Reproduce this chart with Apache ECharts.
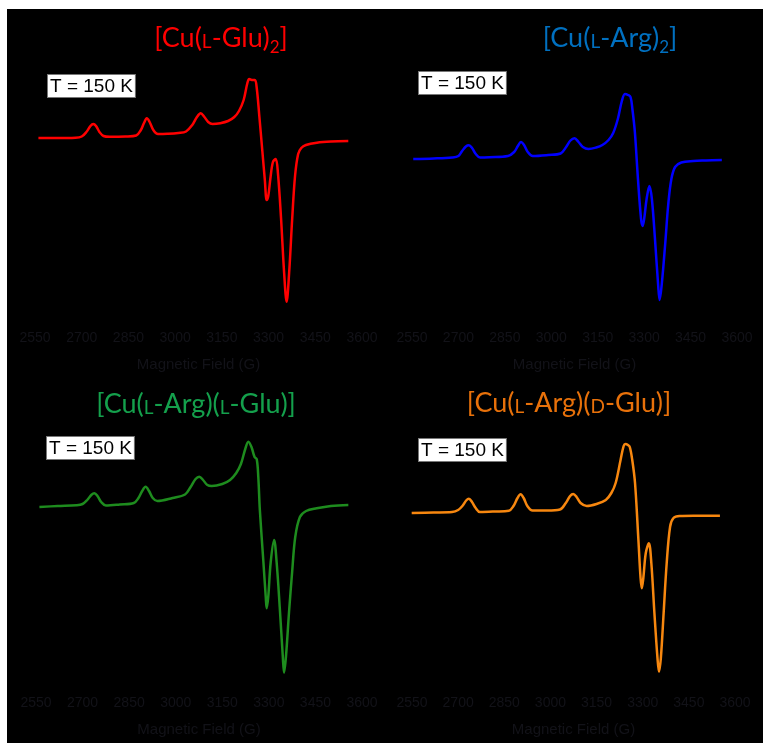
<!DOCTYPE html>
<html>
<head>
<meta charset="utf-8">
<script src="https://cdn.jsdelivr.net/npm/echarts@6/dist/echarts.min.js"></script>
<style>
  html, body { margin: 0; padding: 0; background: #fff; }
  .plate { position: absolute; left: 7px; top: 9px; width: 756px; height: 734px; background: #000; }
  #epr { position: absolute; left: 0; top: 0; width: 763px; height: 743px; }
</style>
</head>
<body>
<div class="plate"></div>
<div id="epr"></div>
<script>
// tick labels shared by all four panels (G)
const fieldTicks = [2550, 2700, 2850, 3000, 3150, 3300, 3450, 3600];

// [Cu(L-Glu)2]
const glu2Field  = [2561, 2620, 2680, 2700, 2715, 2728, 2737, 2746, 2757, 2770, 2790, 2840, 2875, 2890, 2900, 2909, 2918, 2930, 2945, 2975, 3010, 3035, 3055, 3070, 3082, 3094, 3106, 3120, 3145, 3170, 3190, 3205, 3220, 3232, 3238, 3246, 3256, 3262, 3270, 3280, 3288, 3294, 3299, 3306, 3314, 3323, 3330, 3340, 3350, 3358, 3366, 3376, 3385, 3395, 3405, 3420, 3455, 3500, 3556];
const glu2Signal = [0, 0, 0.3, 1.5, 6, 12, 14, 12, 6, 2, 1.2, 1.5, 2.5, 8, 15, 19.7, 16, 8, 4, 4.2, 5, 6.5, 13, 21, 24.7, 21, 16, 14, 14.8, 17, 21, 27, 38, 55, 59, 58, 58, 50, 23, -13, -42, -62, -58, -40, -24, -21, -35, -80, -135, -163.7, -135, -80, -38, -16, -10, -7, -4.7, -3.5, -3];

// [Cu(L-Arg)2]
const arg2Field  = [2554, 2620, 2680, 2700, 2712, 2724, 2734, 2744, 2756, 2770, 2800, 2860, 2880, 2892, 2902, 2912, 2924, 2940, 2990, 3030, 3048, 3062, 3075, 3088, 3102, 3120, 3145, 3165, 3185, 3200, 3215, 3228, 3238, 3248, 3256, 3262, 3270, 3280, 3290, 3295, 3300, 3308, 3317, 3325, 3335, 3345, 3350, 3357, 3368, 3378, 3388, 3400, 3420, 3459, 3500, 3551];
const arg2Signal = [0, 0.5, 1.5, 3, 8, 12.5, 13.7, 11, 5, 1.5, 1.8, 3, 7, 13, 17, 14, 7, 3, 4, 5.5, 12, 18.5, 20.7, 17, 12, 10, 11.5, 14, 19, 26, 40, 58, 65, 64, 62, 50, 27, -20, -60, -67, -60, -40, -27, -40, -80, -125, -141, -125, -85, -45, -20, -8, -3.5, -2, -1.5, -1];

// [Cu(L-Arg)(L-Glu)]
const argLGluField  = [2561, 2620, 2680, 2700, 2715, 2728, 2738, 2748, 2760, 2775, 2820, 2865, 2880, 2892, 2903, 2914, 2926, 2941, 2990, 3030, 3048, 3064, 3076, 3088, 3102, 3116, 3150, 3175, 3195, 3210, 3224, 3234, 3244, 3254, 3261, 3266, 3271, 3282, 3290, 3293, 3298, 3306, 3317, 3325, 3335, 3345, 3349, 3355, 3365, 3375, 3385, 3400, 3420, 3454, 3500, 3556];
const argLGluSignal = [0, 1, 1.8, 3, 7, 12, 13.7, 11, 5, 1.5, 2.5, 4, 9, 16, 20.3, 16, 9, 6, 9, 12.5, 20, 28, 30.3, 27, 22, 21, 23, 27, 34, 43, 58, 65.3, 60, 50, 47.7, 30, -3, -53, -90, -101.3, -90, -55, -33, -55, -100, -150, -165.7, -150, -105, -65, -30, -10, -4, -1.3, 1, 2];

// [Cu(L-Arg)(D-Glu)]
const argDGluField  = [2549, 2620, 2680, 2700, 2715, 2726, 2735, 2745, 2757, 2771, 2820, 2865, 2880, 2893, 2903, 2913, 2925, 2942, 2990, 3031, 3050, 3064, 3074, 3085, 3098, 3118, 3150, 3180, 3198, 3212, 3228, 3238, 3244, 3252, 3258, 3266, 3275, 3286, 3293, 3297, 3302, 3310, 3320, 3328, 3338, 3348, 3353, 3359, 3368, 3378, 3389, 3400, 3420, 3465, 3551];
const argDGluSignal = [0, 0.5, 1, 3, 7.5, 12.5, 14.3, 11, 5, 1, 1.5, 2.3, 7, 15, 18.7, 15, 7, 2.5, 2.5, 3.5, 10, 17, 19, 16, 10, 7, 9, 13, 20, 30, 53, 67, 69, 68, 66, 53, 30, -27, -65, -75.3, -65, -40, -30.3, -50, -100, -145, -158.7, -145, -100, -50, -13.7, -5, -3, -2.7, -2.7];

const panels = [
  { field: glu2Field, signal: glu2Signal, line: '#ff0000', titleColor: '#ff0000',
    title: '{n|[Cu(}{sc|L}{n|-Glu)}{sub|2}{n|]}',
    left: 35, right: 401, top: 60, bottom: 420, yMin: -185, yMax: 78, titleX: 221, titleY: 38, boxX: 48, boxY: 75 },
  { field: arg2Field, signal: arg2Signal, line: '#0000ff', titleColor: '#0070c0',
    title: '{n|[Cu(}{sc|L}{n|-Arg)}{sub|2}{n|]}',
    left: 412, right: 26, top: 60, bottom: 420, yMin: -164, yMax: 99, titleX: 610, titleY: 38, boxX: 419, boxY: 72 },
  { field: argLGluField, signal: argLGluSignal, line: '#1e8c1e', titleColor: '#14a04c',
    title: '{n|[Cu(}{sc|L}{n|-Arg)(}{sc|L}{n|-Glu)]}',
    left: 36, right: 401, top: 425, bottom: 55, yMin: -181, yMax: 82, titleX: 196, titleY: 404, boxX: 47, boxY: 437 },
  { field: argDGluField, signal: argDGluSignal, line: '#f7870f', titleColor: '#e8710a',
    title: '{n|[Cu(}{sc|L}{n|-Arg)(}{sc|D}{n|-Glu)]}',
    left: 412, right: 28, top: 425, bottom: 55, yMin: -175, yMax: 88, titleX: 569, titleY: 403, boxX: 419, boxY: 439 }
];

// small caps for the L/D prefix, subscript 2
function titleRich(color) {
  return {
    n:   { fill: color, fontSize: 27, fontFamily: 'Lato', lineHeight: 36, verticalAlign: 'middle' },
    sc:  { fill: color, fontSize: 19, fontFamily: 'Lato', verticalAlign: 'bottom', padding: [0, 0, 5, 0] },
    sub: { fill: color, fontSize: 17, fontFamily: 'Lato', verticalAlign: 'bottom' }
  };
}

const tickColor = '#121218';
const grids = [], xAxes = [], yAxes = [], series = [], graphics = [];

panels.forEach(function (p, i) {
  grids.push({ left: p.left, right: p.right, top: p.top, bottom: p.bottom });
  xAxes.push({
    type: 'value', gridIndex: i, min: fieldTicks[0], max: fieldTicks[fieldTicks.length - 1], interval: 150,
    axisLine: { show: false }, axisTick: { show: false }, splitLine: { show: false },
    axisLabel: { color: tickColor, fontSize: 14, fontFamily: 'Liberation Sans', margin: 8,
      formatter: function (v) { return String(v); } },
    name: 'Magnetic Field (G)', nameLocation: 'middle', nameGap: 34,
    nameTextStyle: { color: tickColor, fontSize: 15, fontFamily: 'Liberation Sans' }
  });
  yAxes.push({ type: 'value', gridIndex: i, min: p.yMin, max: p.yMax, show: false });
  series.push({
    type: 'line', xAxisIndex: i, yAxisIndex: i, showSymbol: false, smooth: 0.35,
    lineStyle: { color: p.line, width: 2.5 },
    data: p.field.map(function (f, k) { return [f, p.signal[k]]; })
  });
  graphics.push({
    type: 'text', x: p.titleX, y: p.titleY,
    style: { text: p.title, rich: titleRich(p.titleColor), align: 'center', verticalAlign: 'middle' }
  });
  graphics.push({
    type: 'text', x: p.boxX, y: p.boxY,
    style: {
      text: 'T = 150 K', fill: '#000', fontSize: 19, fontFamily: 'Liberation Sans',
      backgroundColor: '#fff', borderColor: '#777', borderWidth: 1, padding: [2, 2, 1, 2],
      align: 'left', verticalAlign: 'top'
    }
  });
});

const chart = echarts.init(document.getElementById('epr'));
chart.setOption({
  backgroundColor: 'transparent',
  animation: false,
  grid: grids,
  xAxis: xAxes,
  yAxis: yAxes,
  series: series,
  graphic: graphics
});
</script>
</body>
</html>
